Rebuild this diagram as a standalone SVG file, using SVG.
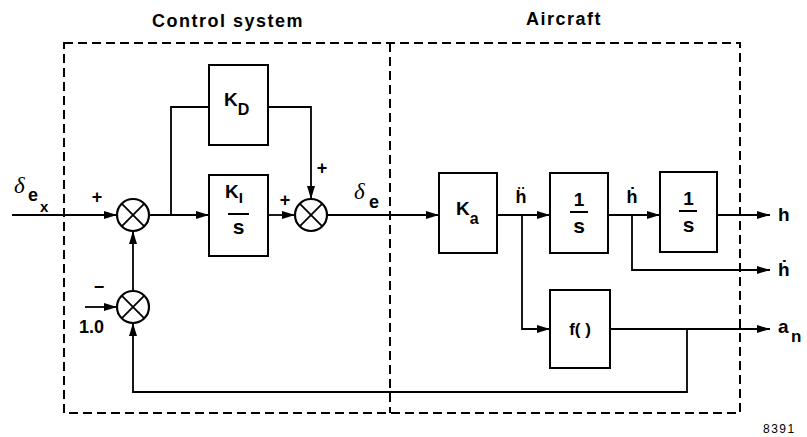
<svg xmlns="http://www.w3.org/2000/svg" width="807" height="437" viewBox="0 0 807 437">
<defs>
<marker id="ah" markerUnits="userSpaceOnUse" markerWidth="14" markerHeight="10" refX="13" refY="4" orient="auto">
<path d="M0,0 L13,4 L0,8 Z" fill="#000"/>
</marker>
<style>
.t{font-family:"Liberation Sans","DejaVu Sans",Arial,sans-serif;font-weight:bold;fill:#000}
.n{font-family:"Liberation Sans","DejaVu Sans",Arial,sans-serif;font-weight:normal;fill:#000}
.d{font-family:"Liberation Serif","DejaVu Serif",serif;font-style:italic;fill:#000}
.box{fill:#fff;stroke:#000;stroke-width:2}
.sum{fill:#fff;stroke:#000;stroke-width:2.2}
.w{fill:none;stroke:#000;stroke-width:1.8}
.dash{fill:none;stroke:#000;stroke-width:2;stroke-dasharray:9,5}
</style>
</defs>
<rect width="807" height="437" fill="#fff"/>
<g id="boundaries">
<path class="dash" d="M64,43 H740 V413 H64 Z"/>
<path class="dash" d="M390,43 V413"/>
<text class="t" x="228" y="27" font-size="18" letter-spacing="1.5" text-anchor="middle">Control system</text>
<text class="t" x="564" y="25" font-size="18" letter-spacing="1.5" text-anchor="middle">Aircraft</text>
</g>
<g id="connectors">
<path class="w" d="M12,215 H117" marker-end="url(#ah)"/>
<path class="w" d="M149,215 H209" marker-end="url(#ah)"/>
<path class="w" d="M171,215 V107 H209"/>
<path class="w" d="M268,107 H311 V199" marker-end="url(#ah)"/>
<path class="w" d="M268,215 H295" marker-end="url(#ah)"/>
<path class="w" d="M327,215 H439" marker-end="url(#ah)"/>
<path class="w" d="M497,215 H550" marker-end="url(#ah)"/>
<path class="w" d="M522,215 V329 H550" marker-end="url(#ah)"/>
<path class="w" d="M608,215 H660" marker-end="url(#ah)"/>
<path class="w" d="M632,215 V270 H770" marker-end="url(#ah)"/>
<path class="w" d="M717,215 H770" marker-end="url(#ah)"/>
<path class="w" d="M610,329 H770" marker-end="url(#ah)"/>
<path class="w" d="M687,329 V392 H133 V323" marker-end="url(#ah)"/>
<path class="w" d="M85,307 H117" marker-end="url(#ah)"/>
<path class="w" d="M133,291 V231" marker-end="url(#ah)"/>
</g>
<g id="sum1">
<circle class="sum" cx="133" cy="215" r="16"/>
<path class="w" d="M121.7,203.7 L144.3,226.3 M144.3,203.7 L121.7,226.3"/>
</g>
<g id="sum2">
<circle class="sum" cx="133" cy="307" r="16"/>
<path class="w" d="M121.7,295.7 L144.3,318.3 M144.3,295.7 L121.7,318.3"/>
</g>
<g id="sum3">
<circle class="sum" cx="311" cy="215" r="16"/>
<path class="w" d="M299.7,203.7 L322.3,226.3 M322.3,203.7 L299.7,226.3"/>
</g>
<g id="KD">
<rect class="box" x="209" y="65" width="59" height="80"/>
<text class="t" x="224" y="106" font-size="19">K<tspan font-size="16" dy="9">D</tspan></text>
</g>
<g id="KI">
<rect class="box" x="209" y="175" width="59" height="81"/>
<text class="t" x="225" y="198" font-size="19">K<tspan font-size="15" dy="5">I</tspan></text>
<path d="M228,214 H249" stroke="#000" stroke-width="2"/>
<text class="t" x="238.5" y="234" font-size="21" text-anchor="middle">s</text>
</g>
<g id="Ka">
<rect class="box" x="439" y="173" width="58" height="80"/>
<text class="t" x="456" y="215" font-size="19">K<tspan font-size="16" dy="9">a</tspan></text>
</g>
<g id="int1">
<rect class="box" x="550" y="173" width="58" height="80"/>
<text class="t" x="579" y="206" font-size="19" text-anchor="middle">1</text>
<path d="M570,212 H588" stroke="#000" stroke-width="2"/>
<text class="t" x="579" y="233" font-size="21" text-anchor="middle">s</text>
</g>
<g id="int2">
<rect class="box" x="660" y="172" width="57" height="80"/>
<text class="t" x="688.5" y="205" font-size="19" text-anchor="middle">1</text>
<path d="M679,211 H697" stroke="#000" stroke-width="2"/>
<text class="t" x="688.5" y="232" font-size="21" text-anchor="middle">s</text>
</g>
<g id="f">
<rect class="box" x="550" y="290" width="60" height="78"/>
<text class="t" x="580" y="335" font-size="17" text-anchor="middle">f( )</text>
</g>
<g id="labels">
<text class="d" x="14" y="193" font-size="23">δ</text>
<text class="t" x="28" y="201" font-size="18">e</text>
<text class="t" x="40" y="212" font-size="15">x</text>
<text class="t" x="97" y="203" font-size="18" text-anchor="middle">+</text>
<text class="t" x="99" y="293" font-size="18" text-anchor="middle">−</text>
<text class="t" x="79" y="333" font-size="18">1.0</text>
<text class="t" x="285" y="206" font-size="18" text-anchor="middle">+</text>
<text class="t" x="322" y="174" font-size="18" text-anchor="middle">+</text>
<text class="d" x="354" y="199" font-size="23">δ</text>
<text class="t" x="369" y="208" font-size="18">e</text>
<text class="t" x="521" y="203" font-size="18" text-anchor="middle">ḧ</text>
<text class="t" x="632" y="203" font-size="18" text-anchor="middle">ḣ</text>
<text class="t" x="778" y="221" font-size="19">h</text>
<text class="t" x="778" y="276" font-size="19">ḣ</text>
<text class="t" x="778" y="333" font-size="19">a</text>
<text class="t" x="791" y="342" font-size="17">n</text>
<text class="n" x="763" y="433" font-size="12" letter-spacing="1.5">8391</text>
</g>
</svg>
